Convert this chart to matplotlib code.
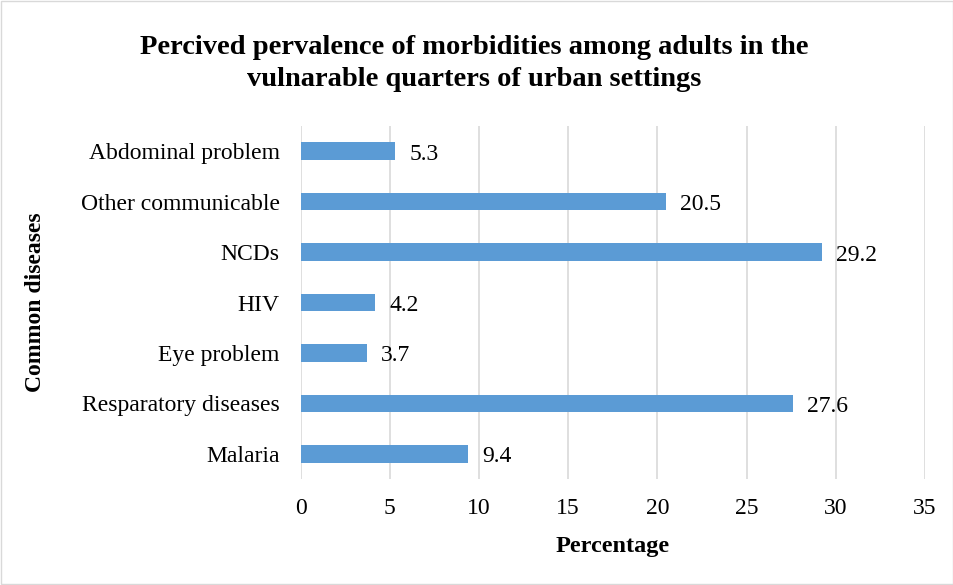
import matplotlib
matplotlib.use("Agg")
import matplotlib.pyplot as plt
from matplotlib.patches import Rectangle

categories = ["Malaria", "Resparatory diseases", "Eye problem", "HIV",
              "NCDs", "Other communicable", "Abdominal problem"]
values = [9.4, 27.6, 3.7, 4.2, 29.2, 20.5, 5.3]
xticks = [0, 5, 10, 15, 20, 25, 30, 35]

plt.rcParams['font.family'] = ['Liberation Serif', 'DejaVu Serif']

fig = plt.figure(figsize=(9.54, 5.85), dpi=100)
ax = fig.add_axes([0.315, 0.1812, 0.6546, 0.6034])

ypos = list(range(len(categories)))
ax.barh(ypos, values, height=0.35, color="#5B9BD5", zorder=3)
for y, v in zip(ypos, values):
    ax.annotate(f"{v}", xy=(v, y), xytext=(14, -3), textcoords="offset pixels",
                va="center", ha="left", fontsize=17, color="black")

ax.set_xlim(0, 35)
ax.set_ylim(-0.5, len(categories) - 0.5)
ax.set_xticks(xticks)
ax.set_xticklabels([str(t) for t in xticks], fontsize=17)
ax.set_yticks(ypos)
ax.set_yticklabels(categories, fontsize=17)
ax.tick_params(axis='both', length=0)
ax.tick_params(axis='x', pad=14)
ax.tick_params(axis='y', pad=15)
ax.xaxis.grid(True, color="#D9D9D9", linewidth=1.2, zorder=0)
ax.set_axisbelow(True)
for s in ax.spines.values():
    s.set_visible(False)

ax.set_xlabel("Percentage", fontsize=17.5, fontweight="bold", labelpad=12)
ax.set_ylabel("Common diseases", fontsize=17, fontweight="bold", labelpad=25)

fig.text(0.497, 0.8915, "Percived pervalence of morbidities among adults in the\nvulnarable quarters of urban settings",
         ha="center", va="center", fontsize=20.5, fontweight="bold", linespacing=1.33)

fig.patches.append(Rectangle((0.001, 0.001), 0.998, 0.998, transform=fig.transFigure,
                             fill=False, edgecolor="#D9D9D9", linewidth=1))

fig.savefig("out.png", dpi=100)
